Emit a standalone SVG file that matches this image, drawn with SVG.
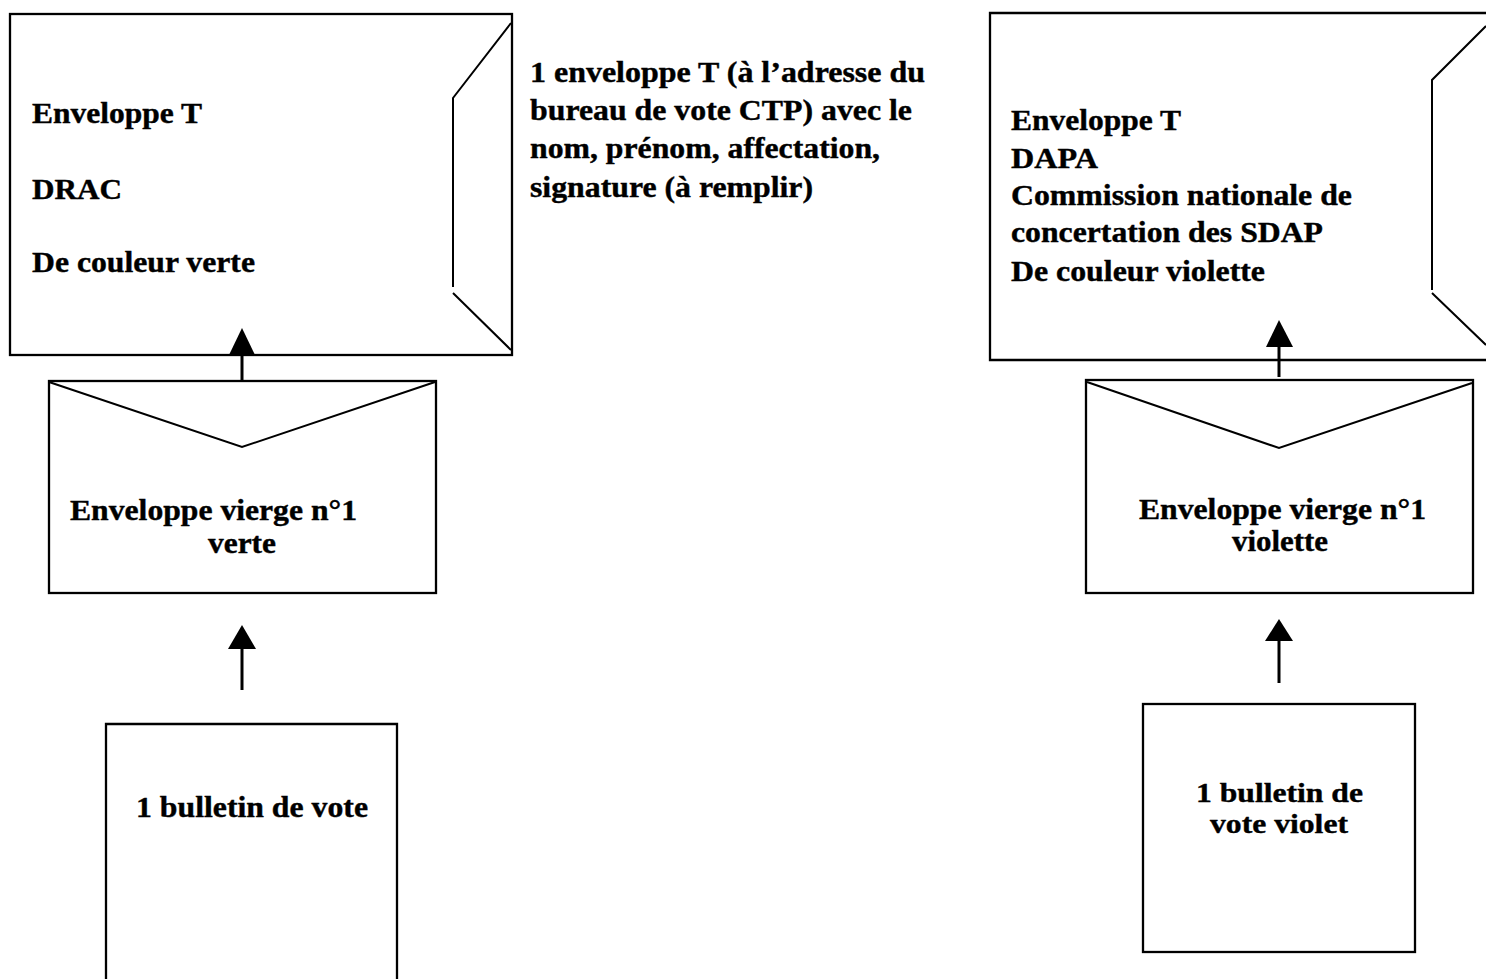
<svg xmlns="http://www.w3.org/2000/svg" width="1486" height="979" viewBox="0 0 1486 979">
<style>
.b{fill:none;stroke:#000;stroke-width:2.3}
.f{fill:none;stroke:#000;stroke-width:2}
.t{font-family:"Liberation Serif","Times New Roman",serif;font-weight:bold;font-size:29px;fill:#000;stroke:#000;stroke-width:0.4}
.s{font-size:27.5px}
.c{stroke:#000;stroke-width:3;fill:none}
</style>
<rect width="1486" height="979" fill="#fff"/>

<g id="envT-drac">
<rect class="b" x="10" y="14" width="502" height="341"/>
<path class="f" d="M511,23 L453,98 L453,287 M453,293 L511,350"/>
<text class="t" x="32" y="123" textLength="170" lengthAdjust="spacingAndGlyphs">Enveloppe T</text>
<text class="t" x="32" y="199" textLength="90" lengthAdjust="spacingAndGlyphs">DRAC</text>
<text class="t" x="32" y="272" textLength="223" lengthAdjust="spacingAndGlyphs">De couleur verte</text>
</g>

<g id="note">
<text class="t" x="530" y="82" textLength="395" lengthAdjust="spacingAndGlyphs">1 enveloppe T (à l’adresse du</text>
<text class="t" x="530" y="120" textLength="382" lengthAdjust="spacingAndGlyphs">bureau de vote CTP) avec le</text>
<text class="t" x="530" y="158" textLength="350" lengthAdjust="spacingAndGlyphs">nom, prénom, affectation,</text>
<text class="t" x="530" y="197" textLength="283" lengthAdjust="spacingAndGlyphs">signature (à remplir)</text>
</g>

<g id="envT-dapa">
<path class="b" d="M1486,13 L990,13 L990,360 L1486,360"/>
<path class="f" d="M1486,26 L1432,80 L1432,290 M1432,293 L1486,345"/>
<text class="t" x="1011" y="130" textLength="170" lengthAdjust="spacingAndGlyphs">Enveloppe T</text>
<text class="t" x="1011" y="168" textLength="87" lengthAdjust="spacingAndGlyphs">DAPA</text>
<text class="t" x="1011" y="205" textLength="341" lengthAdjust="spacingAndGlyphs">Commission nationale de</text>
<text class="t" x="1011" y="242" textLength="312" lengthAdjust="spacingAndGlyphs">concertation des SDAP</text>
<text class="t" x="1011" y="281" textLength="254" lengthAdjust="spacingAndGlyphs">De couleur violette</text>
</g>

<g id="env-verte">
<rect class="b" x="49" y="381" width="387" height="212"/>
<path class="f" d="M49,382 L242,447 L435,382"/>
<text class="t" x="70" y="520" textLength="287" lengthAdjust="spacingAndGlyphs">Enveloppe vierge n°1</text>
<text class="t" x="208" y="553" textLength="68" lengthAdjust="spacingAndGlyphs">verte</text>
</g>

<g id="env-violette">
<rect class="b" x="1086" y="380" width="387" height="213"/>
<path class="f" d="M1087,382 L1279,448 L1472,383"/>
<text class="t" x="1139" y="519" textLength="287" lengthAdjust="spacingAndGlyphs">Enveloppe vierge n°1</text>
<text class="t" x="1232" y="551" textLength="96" lengthAdjust="spacingAndGlyphs">violette</text>
</g>

<g id="bulletin-vert">
<path class="b" d="M106,979 L106,724 L397,724 L397,979"/>
<text class="t" x="136" y="817" textLength="232" lengthAdjust="spacingAndGlyphs">1 bulletin de vote</text>
</g>

<g id="bulletin-violet">
<rect class="b" x="1143" y="704" width="272" height="248"/>
<text class="t s" x="1196" y="802" textLength="167" lengthAdjust="spacingAndGlyphs">1 bulletin de</text>
<text class="t s" x="1210" y="833" textLength="138" lengthAdjust="spacingAndGlyphs">vote violet</text>
</g>

<g id="connectors">
<path d="M242,382 L242,355" class="c"/>
<path d="M229,355 L255,355 L242,328 Z" fill="#000"/>
<path d="M242,690 L242,649" class="c"/>
<path d="M228,649 L256,649 L242,625 Z" fill="#000"/>
<path d="M1279,377 L1279,347" class="c"/>
<path d="M1266,347 L1293,347 L1279,320 Z" fill="#000"/>
<path d="M1279,683 L1279,641" class="c"/>
<path d="M1265,641 L1293,641 L1279,619 Z" fill="#000"/>
</g>
</svg>
